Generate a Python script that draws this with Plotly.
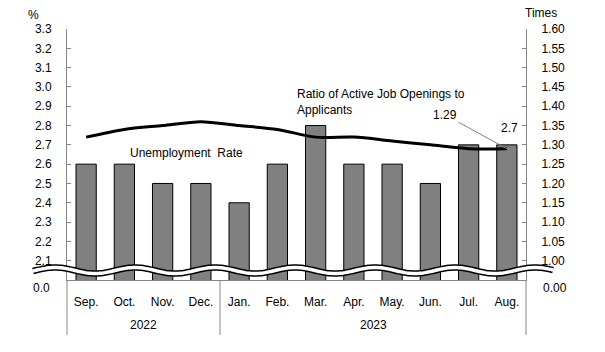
import numpy as np
import plotly.graph_objects as go

# ---- data ----
months = ["Sep.", "Oct.", "Nov.", "Dec.", "Jan.", "Feb.", "Mar.", "Apr.", "May.", "Jun.", "Jul.", "Aug."]
year_labels = ["2022", "2023"]
unemployment_rate = [2.6, 2.6, 2.5, 2.5, 2.4, 2.6, 2.8, 2.6, 2.6, 2.5, 2.7, 2.7]
job_ratio = [1.32, 1.34, 1.35, 1.36, 1.35, 1.34, 1.32, 1.32, 1.31, 1.30, 1.29, 1.29]
left_ticks = [2.1, 2.2, 2.3, 2.4, 2.5, 2.6, 2.7, 2.8, 2.9, 3.0, 3.1, 3.2, 3.3]
right_ticks = [1.00, 1.05, 1.10, 1.15, 1.20, 1.25, 1.30, 1.35, 1.40, 1.45, 1.50, 1.55, 1.60]

# ---- layout geometry ----
W, H = 605, 352
ML, MR, MT, MB = 67, 79, 29, 72
PW, PH = W - ML - MR, H - MT - MB
FONT = "Liberation Sans, Arial, sans-serif"
AXC = "#868686"


def px2paper(px, py):
    return (px - ML) / PW, (H - MB - py) / PH


fig = go.Figure()
fig.add_trace(go.Bar(
    x=months, y=unemployment_rate, name="Unemployment Rate",
    marker=dict(color="#808080", line=dict(color="#000000", width=1)),
    yaxis="y",
))
fig.add_trace(go.Scatter(
    x=months, y=job_ratio, name="Ratio", mode="lines",
    line=dict(color="#000000", width=3, shape="spline", smoothing=0.8),
    yaxis="y2",
))

fig.update_layout(
    width=W, height=H,
    margin=dict(l=ML, r=MR, t=MT, b=MB, pad=0),
    paper_bgcolor="white", plot_bgcolor="white",
    showlegend=False, bargap=0.47,
    font=dict(family=FONT, size=12, color="#000000"),
    xaxis=dict(
        type="category", range=[-0.5, 11.5], showgrid=False, zeroline=False,
        showline=True, linecolor=AXC, linewidth=1, ticks="",
        ticklabelstandoff=11, tickfont=dict(size=12),
    ),
    yaxis=dict(
        range=[2.0, 3.3], tickvals=left_ticks, ticktext=[f"{v:.1f}" for v in left_ticks],
        showgrid=False, zeroline=False, showline=True, linecolor=AXC, linewidth=1,
        ticks="inside", ticklen=4, tickcolor=AXC, tickwidth=1, ticklabelstandoff=12,
    ),
    yaxis2=dict(
        range=[0.95, 1.60], tickvals=right_ticks, ticktext=[f"{v:.2f}" for v in right_ticks],
        overlaying="y", side="right", showgrid=False, zeroline=False,
        showline=True, linecolor=AXC, linewidth=1,
        ticks="inside", ticklen=4, tickcolor=AXC, tickwidth=1, ticklabelstandoff=12,
    ),
)

ext = -(335 - (H - MB)) / PH
shapes = []
for xp in (0.0, 1.0):
    shapes.append(dict(type="line", xref="paper", yref="paper", x0=xp, x1=xp, y0=0, y1=ext,
                       line=dict(color=AXC, width=1)))
shapes.append(dict(type="line", xref="x", yref="paper", x0=3.5, x1=3.5, y0=0, y1=ext,
                   line=dict(color=AXC, width=1)))

# axis break wave
wx = np.arange(33, 554, 2.0)
wy = 270.5 + 3.0 * np.sin(2 * np.pi * (wx - 75) / 80.0)
pts = [px2paper(a, b) for a, b in zip(wx, wy)]
path = "M " + " L ".join(f"{a:.5f},{b:.5f}" for a, b in pts)
shapes.append(dict(type="path", path=path, xref="paper", yref="paper", layer="above",
                   line=dict(color="#000000", width=6.5)))
shapes.append(dict(type="path", path=path, xref="paper", yref="paper", layer="above",
                   line=dict(color="#ffffff", width=3.5)))
fig.update_layout(shapes=shapes)

ann = []


def text_at(px, py, t, xanchor="center", **kw):
    x, y = px2paper(px, py)
    ann.append(dict(x=x, y=y, xref="paper", yref="paper", text=t, showarrow=False,
                    xanchor=xanchor, yanchor="middle", font=dict(size=12), **kw))


text_at(52, 288, "0.0", xanchor="right")
text_at(541, 288, "0.00", xanchor="left")
text_at(33, 15, "%")
text_at(541, 13, "Times")
text_at(128, 153, "Unemployment\u00a0 Rate", xanchor="left")
text_at(295, 102, "Ratio of Active Job Openings to<br>Applicants", xanchor="left", align="left")

# year labels
ann.append(dict(x=1.5, y=px2paper(0, 325)[1], xref="x", yref="paper", text=year_labels[0],
                showarrow=False, yanchor="middle", font=dict(size=12)))
ann.append(dict(x=7.5, y=px2paper(0, 325)[1], xref="x", yref="paper", text=year_labels[1],
                showarrow=False, yanchor="middle", font=dict(size=12)))

# data labels
ann.append(dict(x=months[-1], y=job_ratio[-1], xref="x", yref="y2", text=f"{job_ratio[-1]:.2f}",
                showarrow=True, arrowhead=0, arrowwidth=1, arrowcolor="#808080",
                ax=-62, ay=-34, font=dict(size=12)))
ann.append(dict(x=months[-1], y=unemployment_rate[-1], xref="x", yref="y",
                text=f"{unemployment_rate[-1]:.1f}", showarrow=False,
                yshift=17, xshift=3, font=dict(size=12)))
fig.update_layout(annotations=ann)

fig.write_html("out.html")
